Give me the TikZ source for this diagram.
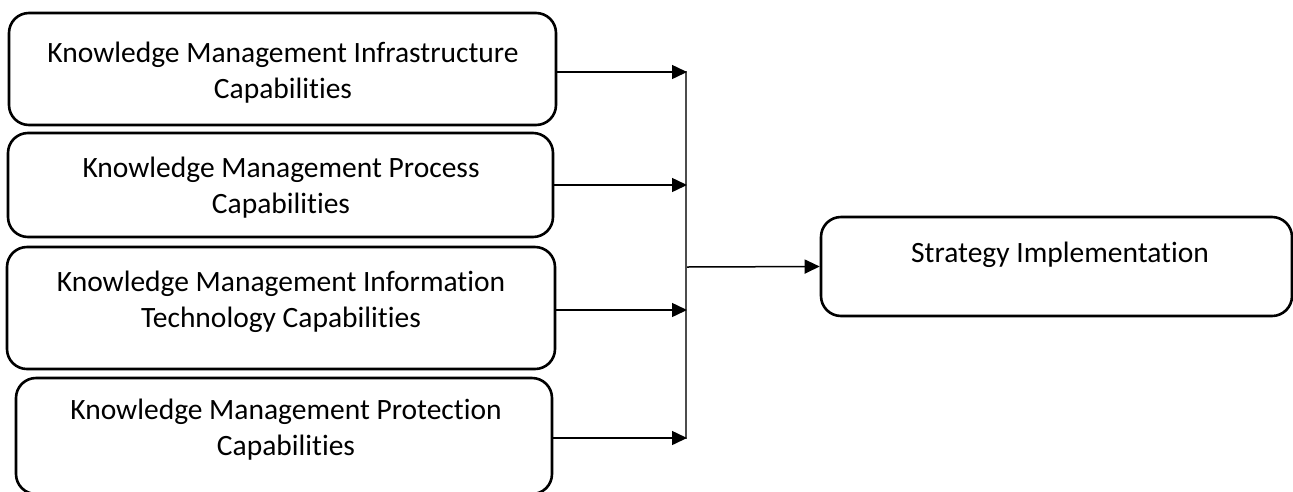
\documentclass[tikz,border=0pt]{standalone}
\usepackage{fontspec}
\setmainfont[RawFeature={-liga;-clig;-calt;-dlig}]{Carlito}
\usetikzlibrary{arrows.meta}
\begin{document}
\begin{tikzpicture}[x=1pt,y=-1pt,
  kbox/.style={draw=black,line width=2.6pt,rounded corners=20pt,inner sep=0pt},
  ktext/.style={font=\fontsize{29.5}{36}\selectfont,align=center,inner sep=0pt,anchor=center},
  arr/.style={draw=black,line width=1.5pt,-{Triangle[length=15pt,width=14pt]}},
  trunk/.style={draw=black!70,line width=2pt}]
\useasboundingbox (0,0) rectangle (1293,491);
\clip (0,0) rectangle (1293,491);
% boxes
\node[kbox,minimum width=547pt,minimum height=112pt] (b1) at (282.5,69) {};
\node[kbox,minimum width=545pt,minimum height=104pt] (b2) at (280.5,185) {};
\node[kbox,minimum width=548pt,minimum height=122pt] (b3) at (281,308) {};
\node[kbox,minimum width=536pt,minimum height=116pt] (b4) at (284,436) {};
\node[kbox,minimum width=471pt,minimum height=99pt] (b5) at (1056.5,266.5) {};
% texts
\node[ktext] (t1) at (283,73) {Knowledge Management Infrastructure\\Capabilities};
\node[ktext] (t2) at (281,188) {Knowledge Management Process\\Capabilities};
\node[ktext] (t3) at (281,302) {Knowledge Management Information\\Technology Capabilities};
\node[ktext] (t4) at (286,430) {Knowledge Management Protection\\Capabilities};
\node[ktext] (t5) at (1060,255) {Strategy Implementation};
% junction
\coordinate (j1) at (687,72);
\coordinate (j2) at (687,185);
\coordinate (j3) at (687,310);
\coordinate (j4) at (687,438);
\coordinate (jm) at (687,267);
\draw[trunk] (686,71) -- (686,439);
\draw[arr] (b1.east |- j1) -- (j1);
\draw[arr] (b2.east |- j2) -- (j2);
\draw[arr] (b3.east |- j3) -- (j3);
\draw[arr] (b4.east |- j4) -- (j4);
\draw[arr] (jm) -- (b5.west);
\end{tikzpicture}
\end{document}
